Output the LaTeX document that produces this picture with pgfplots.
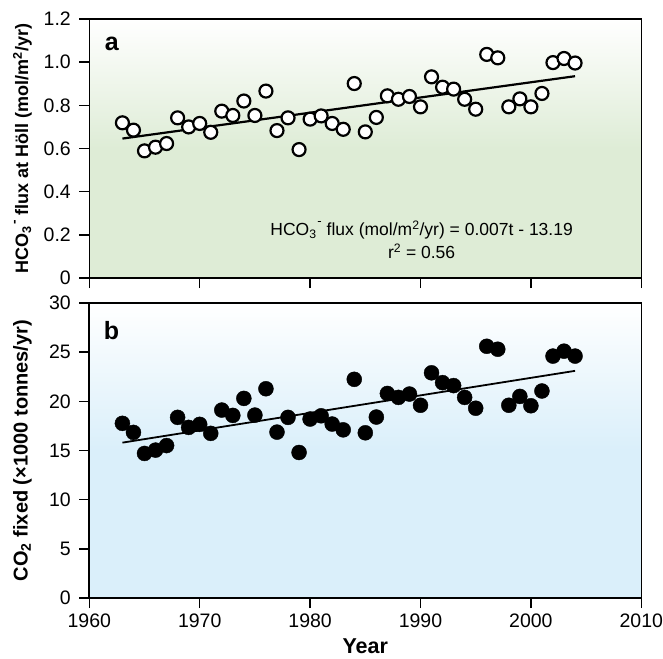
\documentclass[border=0pt]{standalone}
\usepackage{fontspec}
\setmainfont{Liberation Sans}
\usepackage{pgfplots}
\usepackage{pgfplotstable}
\pgfplotsset{compat=1.18}
\definecolor{gbg}{RGB}{222,236,214}
\definecolor{bbg}{RGB}{218,239,250}
\pgfdeclareverticalshading{greenbg}{100bp}{color(0bp)=(gbg); color(25bp)=(gbg); color(50bp)=(gbg); color(75bp)=(white); color(100bp)=(white)}
\pgfdeclareverticalshading{bluebg}{100bp}{color(0bp)=(bbg); color(25bp)=(bbg); color(50bp)=(bbg); color(75bp)=(white); color(100bp)=(white)}
\newcommand{\hco}{HCO\textsubscript{3}\kern0.05em\raisebox{0.55em}{\scalebox{0.75}{-}}}
\pgfplotstableread{
year a b
1963 0.719 17.76
1964 0.685 16.84
1965 0.589 14.70
1966 0.606 15.04
1967 0.623 15.50
1968 0.742 18.37
1969 0.700 17.35
1970 0.716 17.66
1971 0.675 16.74
1972 0.773 19.11
1973 0.753 18.57
1974 0.820 20.30
1975 0.753 18.60
1976 0.866 21.28
1977 0.683 16.87
1978 0.742 18.37
1979 0.595 14.80
1980 0.736 18.20
1981 0.751 18.53
1982 0.716 17.69
1983 0.689 17.10
1984 0.901 22.24
1985 0.677 16.80
1986 0.744 18.40
1987 0.844 20.80
1988 0.828 20.40
1989 0.841 20.74
1990 0.793 19.60
1991 0.932 22.90
1992 0.884 21.90
1993 0.875 21.60
1994 0.828 20.40
1995 0.782 19.30
1996 1.036 25.60
1997 1.020 25.30
1998 0.793 19.60
1999 0.830 20.50
2000 0.793 19.55
2001 0.855 21.05
2002 0.998 24.60
2003 1.017 25.10
2004 0.996 24.60
}\datatable
\pgfplotsset{
  common/.style={
    scale only axis, width=552pt,
    xmin=1960, xmax=2010, xtick={1960,1970,...,2010},
    tick align=outside, xtick pos=bottom, ytick pos=left,
    major tick length=10pt,
    axis line style={line width=1.6pt},
    every tick/.style={black, line width=1.4pt},
    tick label style={font=\fontsize{19.5}{22}\selectfont},
    yticklabel style={xshift=-5pt},
    xticklabel style={yshift=-2pt},
    /pgf/number format/assume math mode=true,
    /pgf/number format/1000 sep={},
    clip=false,
  }
}
\begin{document}
\begin{tikzpicture}
\begin{axis}[common, name=top, height=259pt,
  ymin=0, ymax=1.2, ytick={0,0.2,...,1.2},
  yticklabels={0,0.2,0.4,0.6,0.8,1.0,1.2},
  xticklabels={},
  axis background/.style={shade, shading=greenbg},
  ylabel={\hco{} flux at Höll (mol/m\textsuperscript{2}/yr)},
  ylabel style={font=\fontsize{18}{20}\selectfont\bfseries, at={(axis description cs:-0.121,0.5)}, anchor=center},
]
\addplot[black, line width=2.2pt] coordinates {(1963,0.646) (2004,0.935)};
\addplot[only marks, mark=*, mark options={fill=white, draw=black, line width=2.2pt}, mark size=6.5pt] table[x=year, y=a] {\datatable};
\node[anchor=base west, font=\fontsize{25}{28}\selectfont\bfseries, inner sep=0pt] at (axis cs:1961.4,1.054) {a};
\node[anchor=base, font=\fontsize{17.5}{20}\selectfont, inner sep=0pt] at (axis cs:1990.1,0.197) {\hco{} flux (mol/m\textsuperscript{2}/yr) = 0.007t - 13.19};
\node[anchor=base, font=\fontsize{17.5}{20}\selectfont, inner sep=0pt] at (axis cs:1990.1,0.091) {r\textsuperscript{2} = 0.56};
\end{axis}
\begin{axis}[common, name=bot, height=295pt,
  at={(top.south west)}, anchor=north west, yshift=-25pt,
  ymin=0, ymax=30, ytick={0,5,...,30},
  axis background/.style={shade, shading=bluebg},
  ylabel={CO\textsubscript{2} fixed (×1000 tonnes/yr)},
  ylabel style={font=\fontsize{20}{22}\selectfont\bfseries, at={(axis description cs:-0.121,0.5)}, anchor=center},
  xlabel={Year},
  xlabel style={font=\fontsize{21.5}{24}\selectfont\bfseries, yshift=-5pt},
]
\addplot[black, line width=1.8pt] coordinates {(1963,15.8) (2004,23.1)};
\addplot[only marks, mark=*, mark options={fill=black, draw=black}, mark size=7.5pt] table[x=year, y=b] {\datatable};
\node[anchor=base west, font=\fontsize{25}{28}\selectfont\bfseries, inner sep=0pt] at (axis cs:1961.3,26.3) {b};
\end{axis}
\pgfresetboundingbox
\path[use as bounding box] (top.north west) ++(-89.3pt,19pt) rectangle ++(663pt,-658pt);
\end{tikzpicture}
\end{document}
